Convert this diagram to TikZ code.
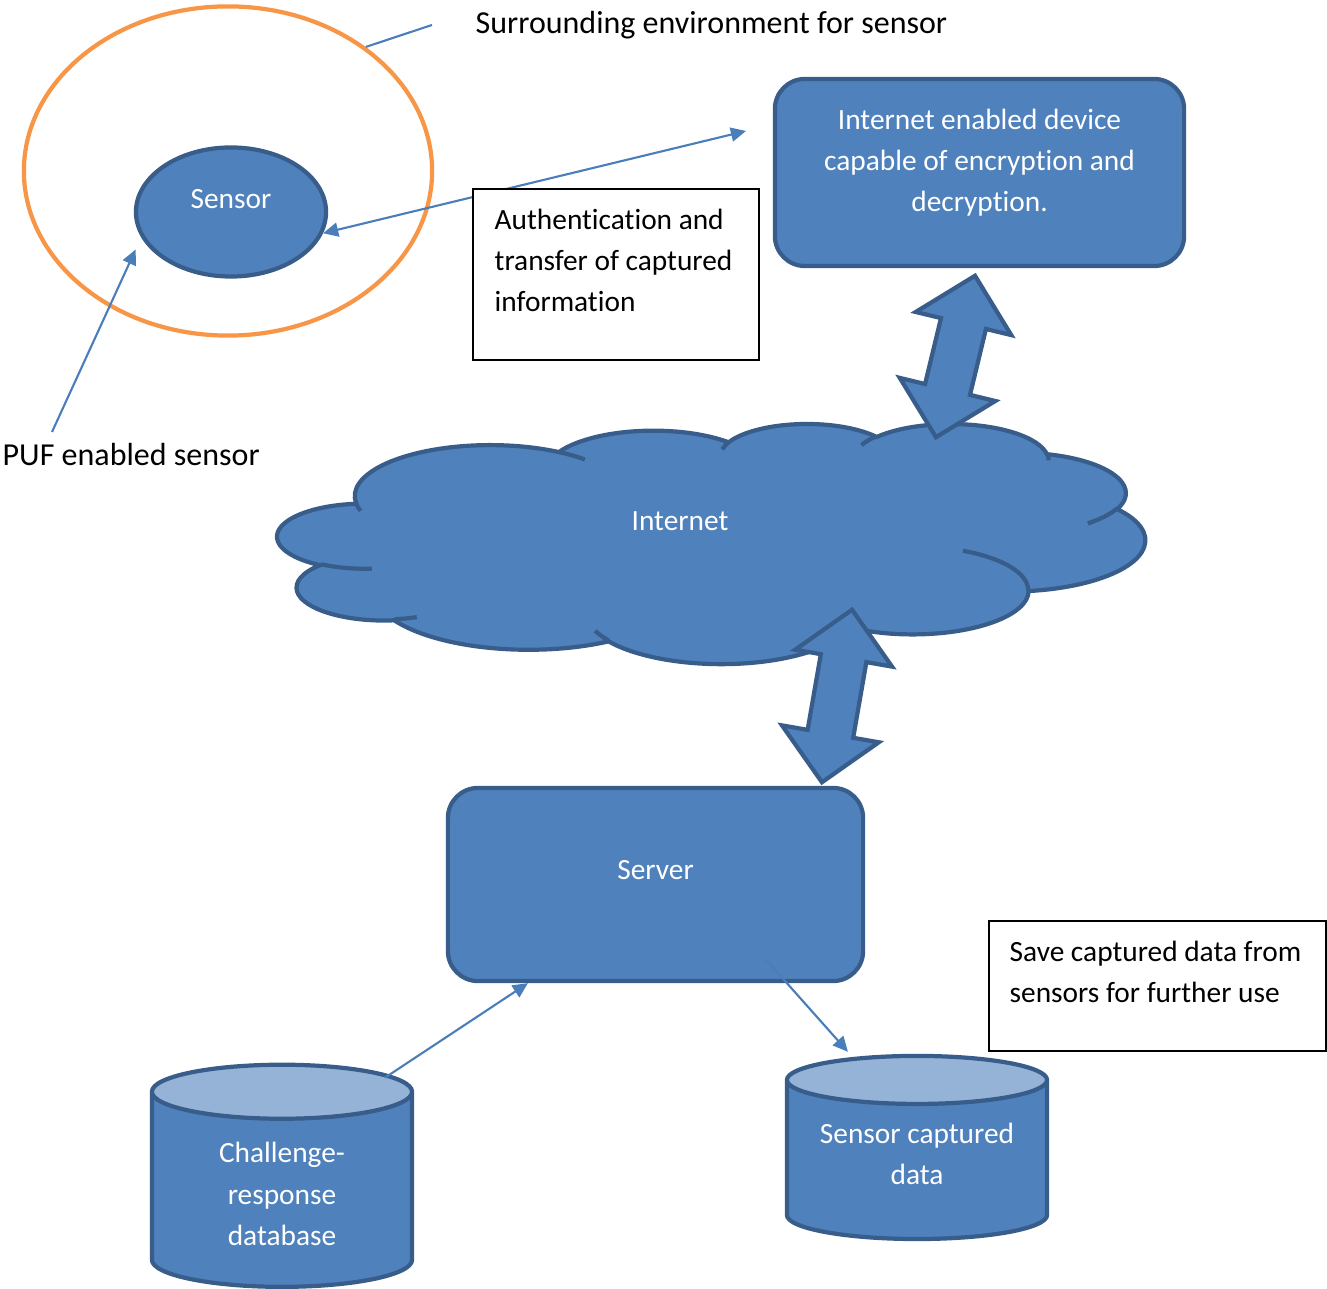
\documentclass[tikz,border=0pt]{standalone}
\usepackage{fontspec}
\setmainfont{Carlito}[Ligatures=NoCommon]
\usetikzlibrary{shapes.geometric,shapes.arrows,arrows.meta,positioning}

\definecolor{wordblue}{HTML}{4F81BD}
\definecolor{wordedge}{HTML}{385D8A}
\definecolor{wordlight}{HTML}{95B3D7}
\definecolor{wordline}{HTML}{4A7EBB}
\definecolor{wordorange}{HTML}{F79646}

\tikzset{
  blueshape/.style={draw=wordedge, fill=wordblue, line width=1.2pt},
  cloudline/.style={draw=wordedge, line width=1.2pt},
  wtxt/.style={text=white, align=center, inner sep=0pt},
  btxt/.style={text=black, align=left, inner sep=0pt},
  bigtxt/.style={btxt, font=\fontsize{9.1}{11.7}\selectfont},
  conn/.style={draw=wordline, line width=0.6pt},
  pointed/.style={-{Triangle[length=4.3pt,width=4pt]}},
  bothpointed/.style={{Triangle[length=4.3pt,width=4pt]}-{Triangle[length=4.3pt,width=4pt]}},
  notebox/.style={draw=black, fill=white, line width=0.6pt, inner sep=0pt},
  db/.style={cloudline, cylinder, shape border rotate=90, inner sep=0.5cm,
    cylinder uses custom fill, cylinder body fill=wordblue, cylinder end fill=wordlight},
  linkarrow/.style={blueshape, double arrow, double arrow head extend=0.26cm,
    inner xsep=0pt, inner ysep=0.21cm},
}

\begin{document}
\begin{tikzpicture}[x=0.01cm, y=-0.01cm, font=\fontsize{8.35}{11.7}\selectfont]
  \useasboundingbox (0,0) rectangle (1327,1289);

  % Define nodes
  \node[ellipse, draw=wordorange, line width=1.2pt, minimum width=4.08cm, minimum height=3.29cm] (env) at (228,171) {};
  \node[blueshape, ellipse, minimum width=1.9cm, minimum height=1.29cm,
    label={[wtxt, yshift=0.13cm]center:Sensor}] (sensor) at (231,212) {};
  \node[blueshape, rounded corners=0.3cm, minimum width=4.09cm, minimum height=1.87cm,
    label={[wtxt, yshift=0.1cm]center:{Internet enabled device\\capable of encryption and\\decryption.}}] (device) at (979.5,172.5) {};
  \node[blueshape, rounded corners=0.3cm, minimum width=4.15cm, minimum height=1.93cm,
    label={[wtxt, yshift=0.145cm]center:Server}] (server) at (655.5,884.5) {};
  \node[db, aspect=0.54, minimum width=2.6cm, minimum height=2.22cm,
    label={[wtxt, yshift=0.07cm]center:{Challenge-\\response\\database}}] (crdb) at (282,1201) {};
  \node[db, aspect=0.48, minimum width=2.6cm, minimum height=1.83cm,
    label={[wtxt, yshift=0.16cm]center:{Sensor captured\\data}}] (capdb) at (917,1170) {};

  % Internet cloud
  \begin{scope}[shift={(277.7,423.2)}, x=0.020066cm, y=-0.005553cm]
    \path[blueshape] (39,143.7)
      foreach \sa/\da/\rx/\ry in {-187.75/128.11/67.53/91.90, -152.02/106.58/53.33/72.67,
        -153.48/116.16/43.65/59.45, -139.70/129.49/48.57/65.95, -74.77/97.98/53.33/72.73,
        -37.53/119.39/67.75/92.20, 0.46/121.51/57.85/78.67, 16.85/129.39/67.52/92.15,
        58.98/91.22/77.20/105.43, 83.31/139.79/43.60/59.18, 120.36/143.30/43.45/59.45}
      { arc[start angle=\sa, delta angle=\da, x radius=\rx, y radius=\ry] } -- cycle;
    \foreach \px/\py/\sa/\da/\rx/\ry in {46.93/261.77/85.54/34.82/43.45/59.45,
        69.28/348.99/68.23/15.08/43.60/59.18, 164.78/390.90/146.24/12.23/67.52/92.15,
        288.27/347.51/4.74/12.11/67.52/92.15, 341.29/229.54/-64.03/64.49/57.85/78.67,
        417.98/153.54/23.21/26.43/53.33/72.73, 383.24/54.26/-10.21/11.03/48.57/65.95,
        290.78/39.52/-156.29/16.59/48.57/65.95, 221.41/47.20/-167.73/14.25/43.65/59.45,
        140.00/51.92/-59.64/13.89/67.53/91.90, 41.27/157.89/163.20/9.05/67.53/91.90}
      \draw[cloudline] (\px,\py) arc[start angle=\sa, delta angle=\da, x radius=\rx, y radius=\ry];
  \end{scope}
  \node[wtxt] (net) at (680,521) {Internet};

  \node[linkarrow, rotate=76.4, minimum height=1.66cm] (link1) at (955.5,356.5) {};
  \node[linkarrow, rotate=80.1, minimum height=1.75cm] (link2) at (837,696) {};

  \node[bigtxt, anchor=west] (envtxt) at (475,25) {Surrounding environment for sensor};
  \node[bigtxt, anchor=west] (puftxt) at (2,455) {PUF enabled sensor};
  \coordinate[left=0.43cm of envtxt] (envtip);
  \coordinate (puftip) at (52,432);
  \coordinate (devtip) at (746,131);

  % Connect the nodes
  \draw[conn] (envtip) -- (env.42);
  \draw[conn, pointed] (puftip) -- ([xshift=-0.15cm]sensor.205);
  \draw[conn, bothpointed] (sensor.347) -- (devtip);
  \draw[conn, pointed] ([xshift=1.03cm, yshift=-0.15cm]crdb.north) -- ([xshift=-1.275cm]server.south);
  \draw[conn, pointed] ([xshift=1.1cm, yshift=0.24cm]server.south) -- ([xshift=-0.69cm, yshift=0.02cm]capdb.north);

  % Notes
  \node[notebox, minimum width=2.86cm, minimum height=1.71cm] (auth) at (616,274.5) {};
  \node[btxt, anchor=north west] (authtxt) at (494,208) {Authentication and\\transfer of captured\\information};
  \node[notebox, minimum width=3.37cm, minimum height=1.3cm] (save) at (1157.5,986) {};
  \node[btxt, anchor=north west] (savetxt) at (1009,940) {Save captured data from\\sensors for further use};
\end{tikzpicture}
\end{document}
